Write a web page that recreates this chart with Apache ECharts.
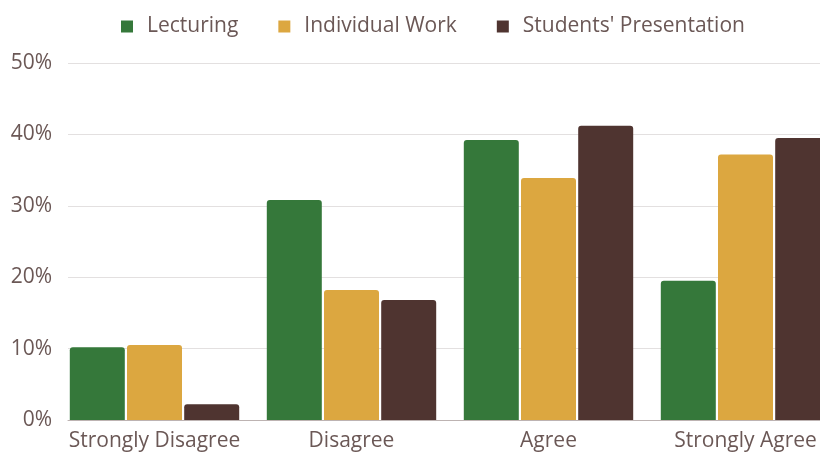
<!DOCTYPE html>
<html>
<head>
<meta charset="utf-8">
<script src="https://cdn.jsdelivr.net/npm/echarts@6/dist/echarts.min.js"></script>
<style>html,body{margin:0;padding:0;background:#fff;overflow:hidden;width:820px;height:452px}#c{width:860px;height:452px}</style>
</head>
<body>
<div id="c"></div>
<script>
const categories = ['Strongly Disagree', 'Disagree', 'Agree', 'Strongly Agree'];
const seriesNames = ['Lecturing', 'Individual Work', "Students' Presentation"];
const lecturing = [10.2, 30.8, 39.2, 19.5];
const individualWork = [10.5, 18.2, 33.9, 37.2];
const studentsPresentation = [2.2, 16.8, 41.2, 39.5];
const yTicks = [0, 10, 20, 30, 40, 50];

const colors = ['#35783a', '#dca740', '#4f3430'];
const textColor = '#6b5856';
const font = 'Open Sans';
const fs = 21;

const chart = echarts.init(document.getElementById('c'));
const values = [lecturing, individualWork, studentsPresentation];
chart.setOption({
  animation: false,
  color: colors,
  legend: {
    top: 11,
    left: 116,
    itemWidth: 12,
    itemHeight: 12,
    itemGap: 40,
    icon: 'rect',
    textStyle: { color: textColor, fontSize: fs, fontFamily: font, padding: [0, 0, 0, 9] },
    data: seriesNames
  },
  grid: [
    { left: 68, right: 0, top: 63, bottom: 32 },
    { left: 56, right: 16, top: 63, bottom: 32 }
  ],
  xAxis: [
    { gridIndex: 0, type: 'category', data: categories, axisLabel: { show: false }, axisTick: { show: false },
      axisLine: { lineStyle: { color: '#bdb3b2', width: 1 } } },
    { gridIndex: 1, type: 'category', data: categories, axisTick: { show: false }, axisLine: { show: false },
      axisLabel: { color: textColor, fontSize: fs, fontFamily: font, margin: 11, interval: 0 } }
  ],
  yAxis: [
    { gridIndex: 0, type: 'value', min: yTicks[0], max: yTicks[yTicks.length - 1], interval: 10,
      axisLabel: { formatter: '{value}%', color: textColor, fontSize: fs, fontFamily: font, margin: 16 },
      splitLine: { lineStyle: { color: '#e3e0e0', width: 1 } }, axisLine: { show: false }, axisTick: { show: false } },
    { gridIndex: 1, type: 'value', min: yTicks[0], max: yTicks[yTicks.length - 1], interval: 10, show: false, splitLine: { show: false } }
  ],
  series: seriesNames.map((n, i) => ({
    name: n,
    type: 'bar',
    xAxisIndex: 1,
    yAxisIndex: 1,
    data: values[i],
    barWidth: 55,
    barGap: '4%',
    itemStyle: { borderRadius: [3, 3, 0, 0] }
  }))
});
</script>
</body>
</html>
